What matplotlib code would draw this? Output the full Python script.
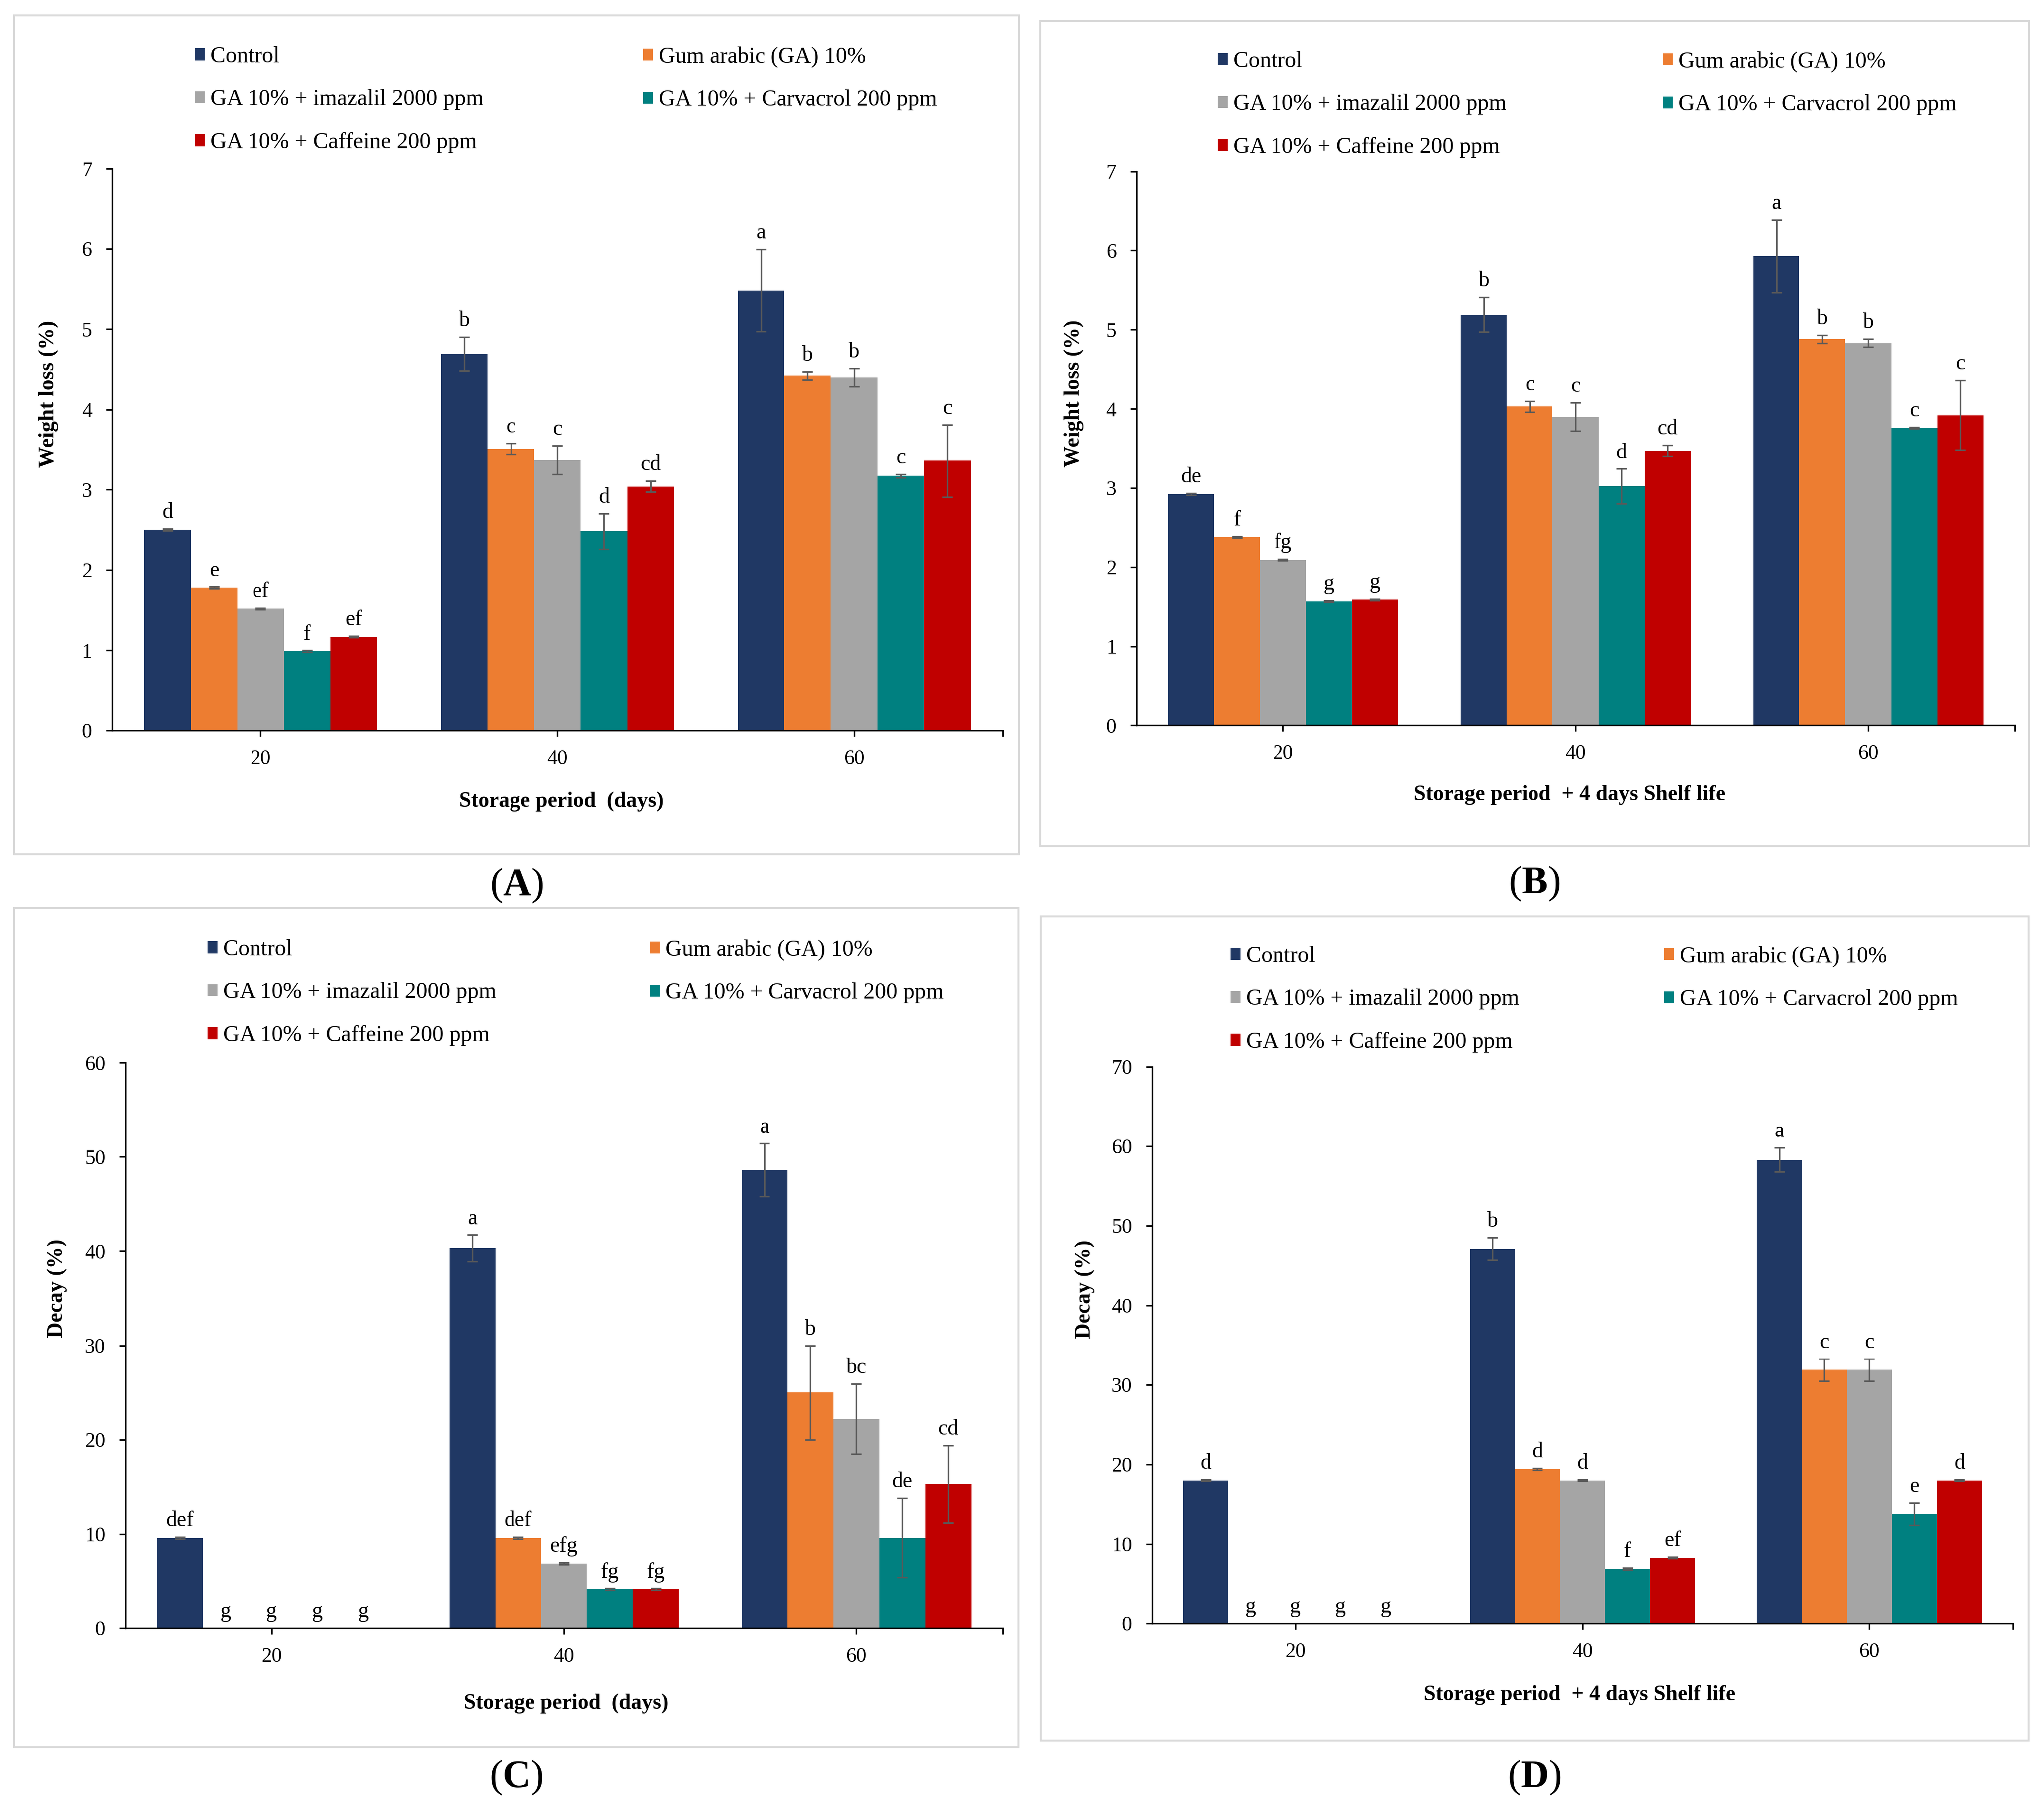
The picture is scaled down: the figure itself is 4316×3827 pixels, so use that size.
import numpy as np
import matplotlib
matplotlib.use('Agg')
import matplotlib.pyplot as plt
from matplotlib.patches import Rectangle, Patch
from matplotlib.font_manager import FontProperties

plt.rcParams['font.family'] = ['Liberation Serif', 'DejaVu Serif']
plt.rcParams['mathtext.fontset'] = 'custom'
plt.rcParams['mathtext.rm'] = 'Liberation Serif'
plt.rcParams['mathtext.bf'] = 'Liberation Serif:bold'

# ---------------- data ----------------
groups = ['20', '40', '60']
series = ['Control', 'Gum arabic (GA) 10%', 'GA 10% + imazalil 2000 ppm',
          'GA 10% + Carvacrol 200 ppm', 'GA 10% + Caffeine 200 ppm']
colors = ['#203864', '#ED7D31', '#A5A5A5', '#008080', '#C00000']

# Panel A: weight loss (%), storage period
A_vals = [[2.50, 4.69, 5.48], [1.78, 3.51, 4.42], [1.52, 3.37, 4.40],
          [0.99, 2.48, 3.17], [1.17, 3.04, 3.36]]
A_errs = [[0.01, 0.21, 0.51], [0.01, 0.07, 0.05], [0.01, 0.18, 0.11],
          [0.01, 0.22, 0.02], [0.01, 0.07, 0.45]]
A_lets = [['d', 'b', 'a'], ['e', 'c', 'b'], ['ef', 'c', 'b'],
          ['f', 'd', 'c'], ['ef', 'cd', 'c']]

# Panel B: weight loss (%), storage + 4 days shelf life
B_vals = [[2.92, 5.19, 5.93], [2.38, 4.03, 4.88], [2.09, 3.90, 4.83],
          [1.57, 3.02, 3.76], [1.59, 3.47, 3.92]]
B_errs = [[0.01, 0.22, 0.46], [0.01, 0.07, 0.05], [0.01, 0.18, 0.05],
          [0.01, 0.22, 0.01], [0.01, 0.07, 0.44]]
B_lets = [['de', 'b', 'a'], ['f', 'c', 'b'], ['fg', 'c', 'b'],
          ['g', 'd', 'c'], ['g', 'cd', 'c']]

# Panel C: decay (%), storage period
C_vals = [[9.6, 40.3, 48.6], [0.0, 9.6, 25.0], [0.0, 6.9, 22.2],
          [0.0, 4.1, 9.6], [0.0, 4.1, 15.3]]
C_errs = [[0.1, 1.4, 2.8], [0.0, 0.1, 5.0], [0.0, 0.1, 3.7],
          [0.0, 0.1, 4.2], [0.0, 0.1, 4.1]]
C_lets = [['def', 'a', 'a'], ['g', 'def', 'b'], ['g', 'efg', 'bc'],
          ['g', 'fg', 'de'], ['g', 'fg', 'cd']]

# Panel D: decay (%), storage + 4 days shelf life
D_vals = [[18.0, 47.1, 58.3], [0.0, 19.4, 31.9], [0.0, 18.0, 31.9],
          [0.0, 6.9, 13.8], [0.0, 8.3, 18.0]]
D_errs = [[0.1, 1.4, 1.5], [0.0, 0.1, 1.4], [0.0, 0.1, 1.4],
          [0.0, 0.1, 1.4], [0.0, 0.1, 0.1]]
D_lets = [['d', 'b', 'a'], ['g', 'd', 'c'], ['g', 'd', 'c'],
          ['g', 'f', 'e'], ['g', 'ef', 'd']]

xlabel_days = 'Storage period  (days)'
xlabel_shelf = 'Storage period  + 4 days Shelf life'

# ---------------- figure ----------------
W, H = 4316, 3827
DPI = 300
fig = plt.figure(figsize=(W / DPI, H / DPI), dpi=DPI)


def fx(px):
    return px / W


def fy(py):
    return 1 - py / H


def add_axes(l, t, r, b):
    return fig.add_axes([fx(l), fy(b), (r - l) / W, (b - t) / H])


def frame(l, t, r, b):
    fig.add_artist(Rectangle((fx(l), fy(b)), (r - l) / W, (b - t) / H,
                             transform=fig.transFigure, fill=False,
                             edgecolor='#D9D9D9', linewidth=1.0))


def panel(ax, vals, errs, lets, ymax, ystep):
    x = np.arange(len(groups))
    bw = 0.157
    for i, name in enumerate(series):
        xs = x + (i - 2) * bw
        v = np.array(vals[i])
        e = np.array(errs[i])
        ax.bar(xs, v, width=bw, color=colors[i], linewidth=0, zorder=2)
        m = v > 0
        ax.errorbar(xs[m], v[m], yerr=e[m], fmt='none', ecolor='#595959',
                    elinewidth=0.8, capsize=2.6, capthick=0.8, zorder=3)
        for xx, vv, ee, lt in zip(xs, v, e, lets[i]):
            ax.annotate(lt, (xx, vv + ee), xytext=(0, 5.5),
                        textcoords='offset points', ha='center',
                        va='baseline', fontsize=11,
                        family='Liberation Serif')
    ax.set_xlim(-0.5, 2.5)
    ax.set_ylim(0, ymax)
    ax.set_yticks(np.arange(0, ymax + ystep / 2, ystep))
    ax.set_xticks(x)
    ax.set_xticklabels(groups)
    ax.set_xticks([2.5], minor=True)
    for s in ['top', 'right']:
        ax.spines[s].set_visible(False)
    for s in ['left', 'bottom']:
        ax.spines[s].set_linewidth(0.8)
        ax.spines[s].set_color('black')
    ax.tick_params(axis='both', which='both', direction='out', length=3.2,
                   width=0.8, labelsize=10.5, colors='black')
    ax.tick_params(axis='y', pad=7)
    ax.tick_params(axis='x', pad=6.5)
    ax.patch.set_alpha(0)


handles = [Patch(facecolor=c, edgecolor='none') for c in colors]
leg_font = FontProperties(family='Liberation Serif', size=11.5)


def legends(x1, x2, ytop):
    kw = dict(loc='upper left', bbox_transform=fig.transFigure, frameon=False,
              borderpad=0, borderaxespad=0, handlelength=0.44,
              handleheight=0.44, handletextpad=0.25, labelspacing=0.97,
              prop=leg_font)
    l1 = fig.legend([handles[0], handles[2], handles[4]],
                    [series[0], series[2], series[4]],
                    bbox_to_anchor=(fx(x1), fy(ytop)), **kw)
    l2 = fig.legend([handles[1], handles[3]], [series[1], series[3]],
                    bbox_to_anchor=(fx(x2), fy(ytop)), **kw)
    return l1, l2


def panel_label(x, y, letter):
    fig.text(fx(x), fy(y), '(' + r'$\mathbf{' + letter + '}$' + ')',
             ha='center', va='center', fontsize=20)


# Panel A
frame(30, 33, 2151, 1804)
axA = add_axes(237, 356, 2117, 1543)
panel(axA, A_vals, A_errs, A_lets, 7, 1)
legends(411, 1358, 98)
fig.text(fx(103), fy(832), 'Weight loss (%)', rotation=90, ha='center',
         va='center', fontsize=11, fontweight='bold')
fig.text(fx(1185), fy(1693), xlabel_days, ha='center', va='center',
         fontsize=11, fontweight='bold')
panel_label(1091, 1870, 'A')

# Panel B
frame(2197, 45, 4284, 1787)
axB = add_axes(2400, 362, 4254, 1532)
panel(axB, B_vals, B_errs, B_lets, 7, 1)
legends(2571, 3511, 108)
fig.text(fx(2268), fy(831), 'Weight loss (%)', rotation=90, ha='center',
         va='center', fontsize=11, fontweight='bold')
fig.text(fx(3314), fy(1679), xlabel_shelf, ha='center', va='center',
         fontsize=11, fontweight='bold')
panel_label(3240, 1866, 'B')

# Panel C
frame(30, 1918, 2150, 3690)
axC = add_axes(265, 2244, 2117, 3439)
panel(axC, C_vals, C_errs, C_lets, 60, 10)
legends(438, 1372, 1984)
fig.text(fx(121), fy(2721), 'Decay (%)', rotation=90, ha='center',
         va='center', fontsize=11, fontweight='bold')
fig.text(fx(1195), fy(3598), xlabel_days, ha='center', va='center',
         fontsize=11, fontweight='bold')
panel_label(1090, 3754, 'C')

# Panel D
frame(2198, 1936, 4283, 3676)
axD = add_axes(2433, 2253, 4250, 3429)
panel(axD, D_vals, D_errs, D_lets, 70, 10)
legends(2598, 3514, 1998)
fig.text(fx(2291), fy(2723), 'Decay (%)', rotation=90, ha='center',
         va='center', fontsize=11, fontweight='bold')
fig.text(fx(3335), fy(3580), xlabel_shelf, ha='center', va='center',
         fontsize=11, fontweight='bold')
panel_label(3240, 3754, 'D')

fig.savefig('out.png', dpi=DPI, facecolor='white')
